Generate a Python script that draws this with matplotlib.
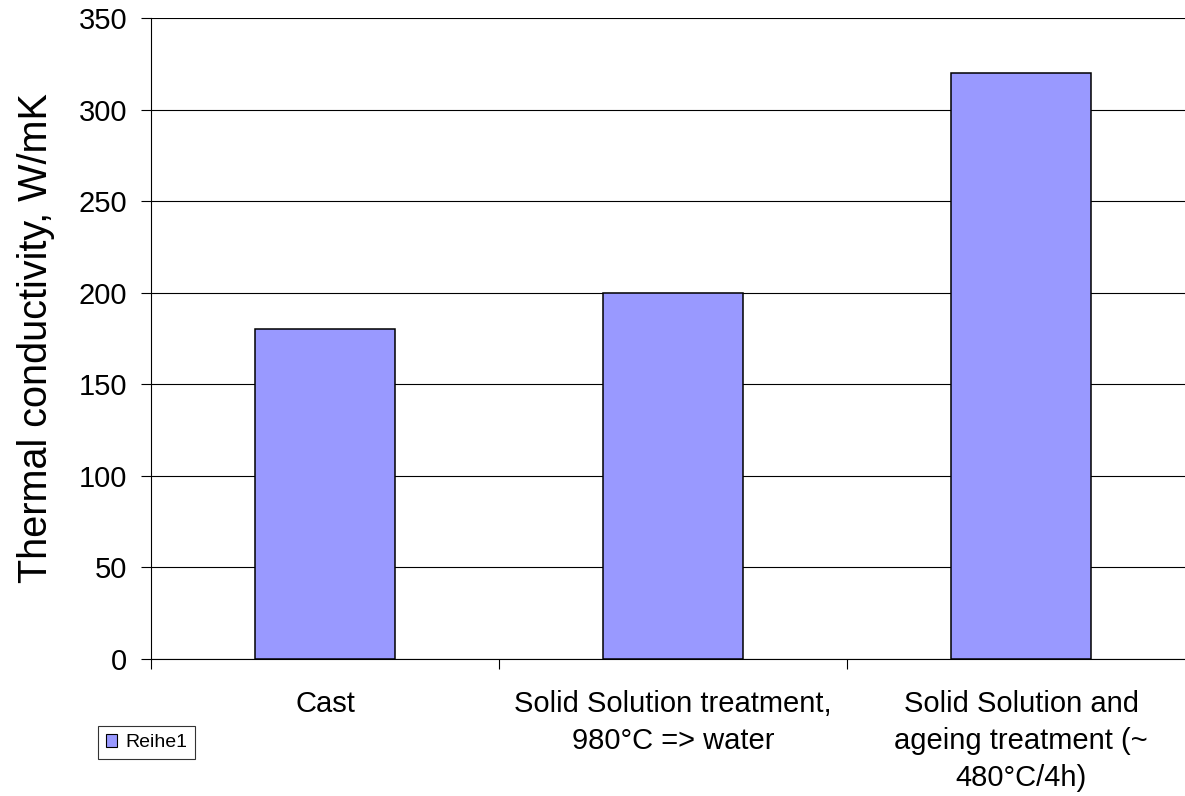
import matplotlib
matplotlib.use("Agg")
import matplotlib.pyplot as plt
from matplotlib.patches import Patch

plt.rcParams['font.family'] = ['Liberation Sans', 'DejaVu Sans']

categories = [
    "Cast",
    "Solid Solution treatment,\n980°C => water",
    "Solid Solution and\nageing treatment (~\n480°C/4h)",
]
conductivity = [180, 200, 320]
series_name = "Reihe1"
y_ticks = [0, 50, 100, 150, 200, 250, 300, 350]

W, H = 1185, 796
fig = plt.figure(figsize=(W / 100, H / 100), dpi=100)
ax = fig.add_axes([151 / W, 1 - 659 / H, 1044 / W, 641 / H])

centers = [i + 0.5 for i in range(len(categories))]
ax.bar(centers, conductivity, width=0.4, color="#9999FF",
       edgecolor="black", linewidth=1.1, zorder=3)

ax.set_xlim(0, len(categories))
ax.set_ylim(y_ticks[0], y_ticks[-1])
ax.set_yticks(y_ticks)
ax.set_yticklabels([str(v) for v in y_ticks])
ax.yaxis.grid(True, color="black", linewidth=0.8, zorder=0)
ax.set_axisbelow(True)

# category boundaries carry the tick marks, centres carry the labels
ax.set_xticks(range(len(categories) + 1))
ax.set_xticklabels([])
ax.set_xticks(centers, minor=True)
ax.set_xticklabels(categories, minor=True, fontsize=21, linespacing=1.43)
ax.tick_params(axis="x", which="major", direction="out", length=7.2, width=0.8)
ax.tick_params(axis="x", which="minor", length=0, pad=22)
ax.tick_params(axis="y", direction="out", length=7.2, width=0.8, labelsize=21, pad=10)

for side in ("top", "right"):
    ax.spines[side].set_visible(False)
for side in ("left", "bottom"):
    ax.spines[side].set_linewidth(0.8)

ax.set_ylabel("Thermal conductivity, W/mK", fontsize=28.5)
ax.yaxis.set_label_coords(-0.0915, 0.5)

handle = Patch(facecolor="#9999FF", edgecolor="black", linewidth=0.8)
leg = fig.legend([handle], [series_name], loc="lower left",
                 bbox_to_anchor=(98 / W, 1 - 759 / H), fontsize=14,
                 frameon=True, fancybox=False, edgecolor="black",
                 handlelength=0.6, handleheight=0.6, handletextpad=0.4,
                 borderpad=0.4, borderaxespad=0)
leg.get_frame().set_linewidth(0.8)

fig.savefig("out.png", dpi=100)
